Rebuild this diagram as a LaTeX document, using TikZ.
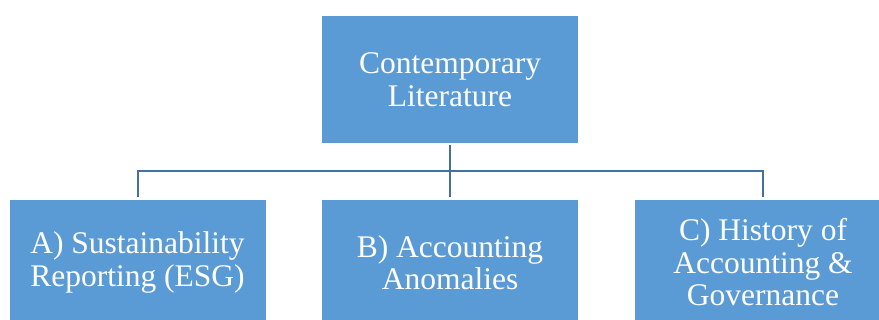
\documentclass[tikz,border=0pt]{standalone}
\usepackage{fontspec}
\setmainfont{Liberation Serif}
\definecolor{boxfill}{HTML}{5B9BD5}
\definecolor{linkline}{HTML}{41719C}
\tikzset{
  orgbox/.style={fill=boxfill, draw=none, text=white, align=center,
    minimum width=256pt, minimum height=127pt, inner sep=0pt,
    font=\fontsize{31.5}{32.5}\selectfont},
  link/.style={draw=linkline, line width=2pt}
}
\begin{document}
\begin{tikzpicture}[x=1pt, y=-1pt]
  \clip (0,0) rectangle (879,320);
  \useasboundingbox (0,0) rectangle (879,320);
  % top level
  \node[orgbox] (top) at (450,79.5) {Contemporary\\Literature};
  % second level (runs past the lower edge)
  \node[orgbox, minimum height=125pt] (a) at (137.5,262.5) {A) Sustainability\\Reporting (ESG)};
  \node[orgbox, minimum height=125pt] (b) at (450,262.5) {B) Accounting\\Anomalies};
  \node[orgbox, minimum height=125pt] (c) at (763,262.5) {C) History of\\Accounting \&\\Governance};
  % connectors
  \draw[link] ([yshift=-2pt]top.south) -- ++(0,26) coordinate (bus);
  \draw[link] ([yshift=3pt]a.north) |- (bus) -| ([yshift=3pt]c.north);
  \draw[link] (bus) -- ([yshift=3pt]b.north);
\end{tikzpicture}
\end{document}
